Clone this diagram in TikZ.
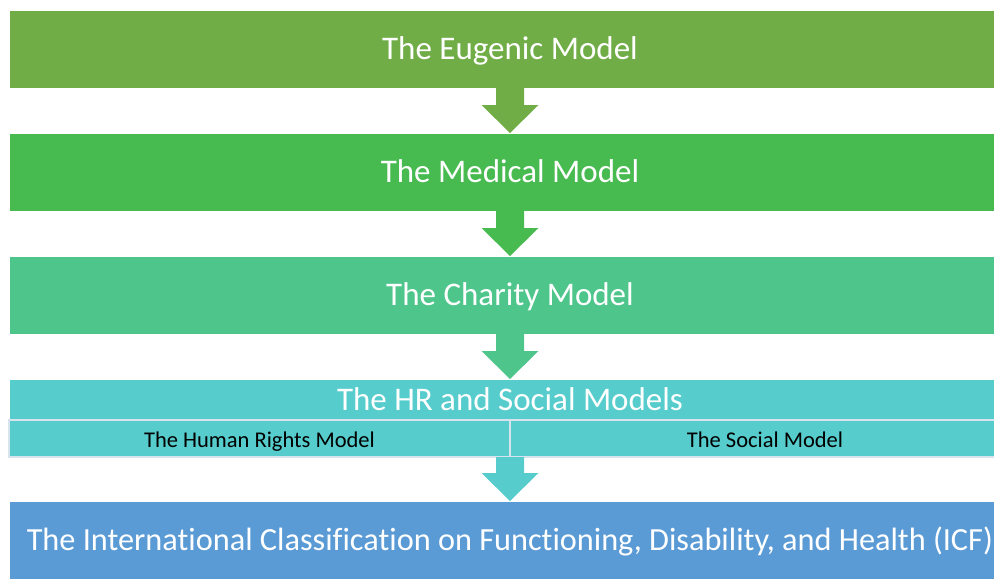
\documentclass[tikz,border=0pt]{standalone}
\usepackage{fontspec}
\setmainfont{Carlito}[Ligatures=NoCommon]
\usetikzlibrary{positioning, calc}
\definecolor{eugenicgreen}{RGB}{112,173,71}
\definecolor{medicalgreen}{RGB}{72,187,80}
\definecolor{charitygreen}{RGB}{78,198,139}
\definecolor{hrteal}{RGB}{86,204,204}
\definecolor{icfblue}{RGB}{91,155,213}
\definecolor{edgegray}{RGB}{215,228,238}

\begin{document}
\begin{tikzpicture}[x=1pt, y=-1pt,
  model/.style={fill=#1, draw=white, line width=0.6pt, outer sep=0pt, inner sep=0pt,
                minimum width=1002pt, minimum height=78pt, text=white,
                text height=21pt, text depth=0pt,
                font=\fontsize{33}{39}\selectfont},
  sub/.style={fill=hrteal, draw=edgegray, line width=1.2pt, outer sep=0pt, inner sep=0pt,
              minimum width=501pt, minimum height=37pt, text=black,
              text height=18pt, text depth=0pt,
              font=\fontsize{22.5}{27}\selectfont},
  flow/.style={fill=#1, to path={
      ($(\tikztostart)+(-14,0)$) -- ($(\tikztotarget)+(-14,-28)$)
      -- ($(\tikztotarget)+(-28.5,-28)$) -- (\tikztotarget)
      -- ($(\tikztotarget)+(28.5,-28)$) -- ($(\tikztotarget)+(14,-28)$)
      -- ($(\tikztostart)+(14,0)$) -- cycle}}
  ]
  \clip (0,0) rectangle (994,579);
  \node[model=eugenicgreen] (eugenic) at (510,49) {The Eugenic Model};
  \node[model=medicalgreen] (medical) [below=45pt of eugenic] {The Medical Model};
  \node[model=charitygreen] (charity) [below=45pt of medical] {The Charity Model};
  \node[model=hrteal, minimum height=41pt] (hr) [below=45pt of charity] {The HR and Social Models};
  \node[sub, anchor=north west] (rights) at (hr.south west) {The Human Rights Model};
  \node[sub, anchor=north east] (social) at (hr.south east) {\hspace*{9pt}The Social Model};
  \coordinate (hrbottom) at (rights.south -| hr.south);
  \node[model=icfblue, font=\fontsize{32.3}{38}\selectfont] (icf) [below=44pt of hrbottom]
    {The International Classification on Functioning, Disability, and Health (ICF)};
  % block arrows between the stages
  \path[flow=eugenicgreen] (eugenic.south) to (medical.north);
  \path[flow=medicalgreen] (medical.south) to (charity.north);
  \path[flow=charitygreen] (charity.south) to (hr.north);
  \path[flow=hrteal] (hrbottom) to (icf.north);
\end{tikzpicture}
\end{document}
